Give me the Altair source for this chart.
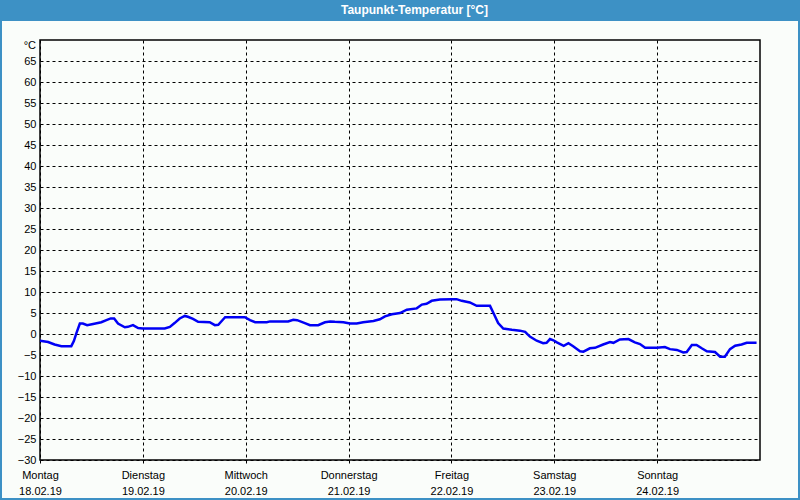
import altair as alt
import pandas as pd

# --- data -------------------------------------------------------------
title_text = ["Taupunkt-Temperatur [°C]"]
unit_label = ["°C"]
day_names = ["Montag", "Dienstag", "Mittwoch", "Donnerstag", "Freitag", "Samstag", "Sonntag"]
day_dates = ["18.02.19", "19.02.19", "20.02.19", "21.02.19", "22.02.19", "23.02.19", "24.02.19"]
y_ticks = list(range(-30, 70, 5))

# hours since Monday 00:00
hours = [0, 1.9, 3.4, 5.0, 7.3, 7.9, 8.5, 9.3, 10.0, 11.0,
         12.4, 14.3, 15.5, 16.5, 17.3, 18.2, 19.8, 20.5, 21.7, 22.9,
         24.0, 29.1, 30.3, 31.4, 32.6, 33.8, 34.5, 35.7, 36.9, 39.6,
         40.8,
         41.6, 42.4, 43.2, 47.8, 49.0, 50.2, 52.9, 53.7, 57.9, 59.1,
         60.0, 61.8, 63.0, 64.9, 66.5, 67.7, 68.8, 70.8, 72.3, 73.9,
         75.4, 77.8,
         79.3, 80.5, 82.1, 84.0, 85.6, 87.9, 89.1, 90.2, 91.4, 93.3,
         96.1, 97.2, 98.4, 100.3, 101.9, 105.0, 105.8, 106.9, 108.1, 110.1,
         112.0, 113.2, 114.3, 115.9, 117.4, 118.2, 119.0, 119.8, 120.6,
         122.2, 123.3, 124.4, 126.0, 126.8, 128.3, 129.5, 131.4, 133.0, 133.8,
         135.3, 137.3, 138.8, 140.0, 141.2, 143.9, 145.8, 147.0, 148.6, 150.1,
         150.9, 152.1, 153.2, 154.4, 155.6, 157.5, 158.7, 159.8, 161.0, 162.2,
         163.7, 164.9, 167.2]

dewpoint = [-1.6, -1.9, -2.5, -2.9, -2.9, -1.7, 0.2, 2.5, 2.5, 2.1,
            2.4, 2.8, 3.3, 3.7, 3.7, 2.5, 1.6, 1.7, 2.1, 1.4,
            1.3, 1.3, 1.7, 2.6, 3.7, 4.3, 4.1, 3.6, 2.9, 2.8,
            2.1,
            2.2, 3.1, 4.0, 4.0, 3.3, 2.8, 2.8, 3.0, 3.0, 3.4,
            3.3, 2.6, 2.1, 2.1, 2.8, 3.0, 2.9, 2.8, 2.5, 2.5,
            2.8, 3.1,
            3.5, 4.2, 4.7, 5.0, 5.8, 6.1, 7.0, 7.2, 7.9, 8.2,
            8.3, 8.3, 7.9, 7.5, 6.7, 6.7, 5.0, 2.6, 1.3, 1.0,
            0.8, 0.5, -0.6, -1.6, -2.2, -2.1, -1.2, -1.5, -2.0,
            -2.8, -2.2, -2.9, -4.1, -4.2, -3.4, -3.3, -2.5, -1.9, -2.1,
            -1.3, -1.2, -2.0, -2.4, -3.3, -3.3, -3.1, -3.6, -3.8, -4.4,
            -4.3, -2.6, -2.6, -3.4, -4.1, -4.3, -5.4, -5.4, -3.6, -2.8,
            -2.5, -2.1, -2.1]

df = pd.DataFrame({"h": hours, "v": dewpoint})

FONT = "Liberation Sans"
BLUE_FRAME = "#3d91c5"

days_js = "[" + ",".join(f"'{d}'" for d in day_names) + "]"
dates_js = "[" + ",".join(f"'{d}'" for d in day_dates) + "]"
x_label_expr = f"[{days_js}[round(datum.value/24)], {dates_js}[round(datum.value/24)]]"

x_axis = alt.Axis(
    values=[24 * i for i in range(len(day_names))],
    labelExpr=x_label_expr,
    title=None,
    grid=True, gridColor="black", gridDash=[3, 3], gridOpacity=1, gridWidth=1,
    domain=False,
    ticks=True, tickSize=3, tickColor="black", tickWidth=1,
    labelFont=FONT, labelFontSize=11, labelColor="black",
    labelPadding=6, labelLineHeight=16, labelFlush=False,
)
y_axis = alt.Axis(
    values=y_ticks,
    title=None,
    grid=True, gridColor="black", gridDash=[3, 3], gridOpacity=1, gridWidth=1,
    domain=False, ticks=False,
    labelFont=FONT, labelFontSize=11, labelColor="black",
    labelPadding=4, labelFlush=False,
)

line = alt.Chart(df).mark_line(color="#0000f5", strokeWidth=2.5).encode(
    x=alt.X("h:Q", scale=alt.Scale(domain=[0, 168], nice=False, zero=False), axis=x_axis),
    y=alt.Y("v:Q", scale=alt.Scale(domain=[-30, 70], nice=False, zero=False), axis=y_axis),
)

one = pd.DataFrame({"t": title_text, "u": unit_label})

title_bar = alt.Chart(one).mark_rect(color=BLUE_FRAME).encode(
    x=alt.value(-40), x2=alt.value(760), y=alt.value(-40), y2=alt.value(-19)
)
border = alt.Chart(one).mark_rect(fillOpacity=0, stroke=BLUE_FRAME, strokeWidth=2).encode(
    x=alt.value(-39), x2=alt.value(759), y=alt.value(-39), y2=alt.value(459)
)
title = alt.Chart(one).mark_text(
    color="white", font=FONT, fontSize=12, fontWeight="bold", align="center", baseline="middle"
).encode(x=alt.value(374.5), y=alt.value(-30), text="t:N")
unit = alt.Chart(one).mark_text(
    color="black", font=FONT, fontSize=11, align="right", baseline="middle"
).encode(x=alt.value(-4), y=alt.value(6), text="u:N")

chart = alt.layer(line, title_bar, border, title, unit).properties(
    width=720, height=420,
    autosize=alt.AutoSizeParams(type="none"),
    padding={"left": 40, "top": 40, "right": 40, "bottom": 40},
    background="#fafdfa",
).configure_view(stroke="black", strokeWidth=1.5)

chart.save("out.html", embed_options={"renderer": "svg", "actions": False})
